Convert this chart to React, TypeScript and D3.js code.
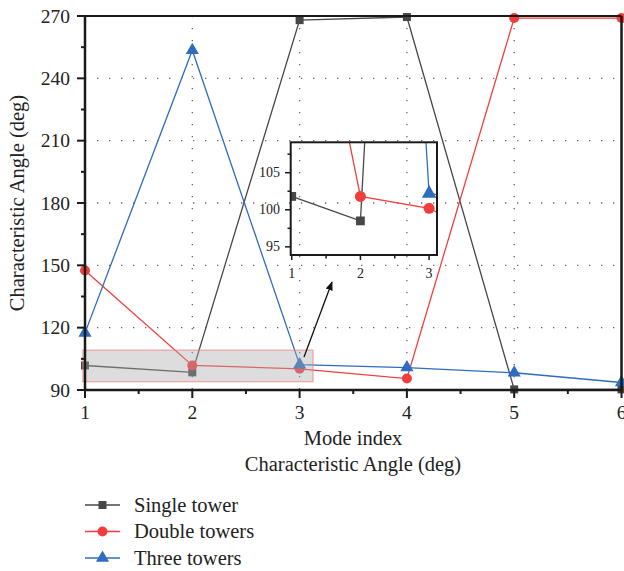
import React from "react";
import * as d3 from "d3";

const modes = [1, 2, 3, 4, 5, 6];
const singleTower = [101.8, 98.5, 268, 269.5, 90.3, 90.3];
const doubleTowers = [147.5, 101.8, 100.2, 95.5, 269, 269];
const threeTowers = [117.5, 253.5, 102.2, 100.8, 98.3, 93.6];
const yTicks = [90, 120, 150, 180, 210, 240, 270];
const insetYTicks = [95, 100, 105];
const insetXTicks = [1, 2, 3];

const series = [
  { name: "Single tower", values: singleTower, color: "#474747", shape: "square" },
  { name: "Double towers", values: doubleTowers, color: "#f23d3d", shape: "circle" },
  { name: "Three towers", values: threeTowers, color: "#2e6cbf", shape: "triangle" },
];

const FONT = "'Liberation Serif', 'Times New Roman', serif";

function Marker({ shape, x, y, color, s = 1 }: any) {
  if (shape === "square") {
    const a = 8 * s;
    return <rect x={x - a / 2} y={y - a / 2} width={a} height={a} fill={color} />;
  }
  if (shape === "circle") {
    return <circle cx={x} cy={y} r={5 * s} fill={color} />;
  }
  const p = d3.symbol().type(d3.symbolTriangle).size(75 * s * s)();
  return <path d={p as string} transform={`translate(${x},${y})`} fill={color} />;
}

export default function App() {
  const W = 624, H = 571;
  const x = d3.scaleLinear().domain([1, 6]).range([85, 621.5]);
  const y = d3.scaleLinear().domain([90, 270]).range([390, 16]);
  const xi = d3.scaleLinear().domain([0.985, 3.115]).range([290.7, 437]);
  const yi = d3.scaleLinear().domain([93.9, 109.1]).range([255, 142.3]);

  const line = d3.line<number>().x((_, i) => x(modes[i])).y((d) => y(d));
  const lineI = d3.line<number>().x((_, i) => xi(modes[i])).y((d) => yi(d));

  const minorY = d3.range(105, 270, 30);
  const minorX = d3.range(1.5, 6, 1);
  const gridX = [2, 3, 4, 5];
  const gridY = [120, 150, 180, 210, 240];
  const insetMinorY = [97.5, 102.5, 107.5];
  const insetMinorX = [1.5, 2.5];

  const [ix0, ix1] = xi.range();
  const [iy0, iy1] = [yi(109.1), yi(93.9)];

  const rx0 = x(0.98), rx1 = x(3.125), ry0 = y(109.2), ry1 = y(94);

  return (
    <svg width={W} height={H} style={{ position: "absolute", left: 0, top: 0, background: "#fff" }} fontFamily={FONT}>
      <defs>
        <clipPath id="insetClip">
          <rect x={ix0} y={iy0} width={ix1 - ix0} height={iy1 - iy0} />
        </clipPath>
        <marker id="arrowHead" viewBox="0 0 10 10" refX="9" refY="5" markerWidth="7" markerHeight="7" orient="auto">
          <path d="M0,1 L10,5 L0,9 Z" fill="#111" />
        </marker>
      </defs>
      {/* grid */}
      {gridX.map((v) => (
        <line key={"gx" + v} x1={x(v)} x2={x(v)} y1={16} y2={390} stroke="#666" strokeWidth={1.3} strokeDasharray="1.3 10.7" />
      ))}
      {gridY.map((v) => (
        <line key={"gy" + v} x1={85} x2={621.5} y1={y(v)} y2={y(v)} stroke="#666" strokeWidth={1.3} strokeDasharray="1.3 10.7" />
      ))}
      {/* main lines */}
      {series.map((s) => (
        <path key={s.name} d={line(s.values) as string} fill="none" stroke={s.color} strokeWidth={1.3} />
      ))}
      {series.map((s) =>
        s.values.map((v, i) => (
          <Marker key={s.name + i} shape={s.shape} x={x(modes[i])} y={y(v)} color={s.color} />
        ))
      )}
      {/* highlight rectangle */}
      <rect x={rx0} y={ry0} width={rx1 - rx0} height={ry1 - ry0} fill="#aaaaaa" fillOpacity={0.4} stroke="#f08080" strokeOpacity={0.7} strokeWidth={1.2} />
      {/* frame */}
      <line x1={85} x2={621.5} y1={16} y2={16} stroke="#1a1a1a" strokeWidth={2.2} />
      <line x1={621.5} x2={621.5} y1={16} y2={390} stroke="#1a1a1a" strokeWidth={2.5} />
      <line x1={85} x2={85} y1={15} y2={391} stroke="#1a1a1a" strokeWidth={2.5} />
      <line x1={84} x2={622.5} y1={390} y2={390} stroke="#1a1a1a" strokeWidth={2.5} />
      {/* y ticks */}
      {yTicks.map((v) => (
        <g key={"yt" + v}>
          <line x1={77} x2={85} y1={y(v)} y2={y(v)} stroke="#1a1a1a" strokeWidth={2} />
          <text x={70} y={y(v) + 6.5} textAnchor="end" fontSize={19.5} fill="#222">{v}</text>
        </g>
      ))}
      {minorY.map((v) => (
        <line key={"ym" + v} x1={81} x2={85} y1={y(v)} y2={y(v)} stroke="#1a1a1a" strokeWidth={2} />
      ))}
      {modes.map((v) => (
        <g key={"xt" + v}>
          <line x1={x(v)} x2={x(v)} y1={390} y2={398} stroke="#1a1a1a" strokeWidth={2} />
          <text x={x(v)} y={419} textAnchor="middle" fontSize={19.5} fill="#222">{v}</text>
        </g>
      ))}
      {minorX.map((v) => (
        <line key={"xm" + v} x1={x(v)} x2={x(v)} y1={390} y2={394} stroke="#1a1a1a" strokeWidth={2} />
      ))}
      {/* axis titles */}
      <text x={353} y={445} textAnchor="middle" fontSize={20.5} fill="#222">Mode index</text>
      <text x={353} y={471} textAnchor="middle" fontSize={20.5} fill="#222">Characteristic Angle (deg)</text>
      <text transform={`translate(24,203) rotate(-90)`} textAnchor="middle" fontSize={20.5} fill="#222">Characteristic Angle (deg)</text>
      {/* inset */}
      <g clipPath="url(#insetClip)">
        {series.map((s) => (
          <path key={"i" + s.name} d={lineI(s.values) as string} fill="none" stroke={s.color} strokeWidth={1.3} />
        ))}
        {series.map((s) =>
          s.values.map((v, i) => (
            <Marker key={"im" + s.name + i} shape={s.shape} x={xi(modes[i])} y={yi(v)} color={s.color} s={1.1} />
          ))
        )}
      </g>
      <rect x={ix0} y={iy0} width={ix1 - ix0} height={iy1 - iy0} fill="none" stroke="#1a1a1a" strokeWidth={2} />
      {insetYTicks.map((v) => (
        <g key={"iyt" + v}>
          <line x1={285} x2={ix0} y1={yi(v)} y2={yi(v)} stroke="#1a1a1a" strokeWidth={1.5} />
          <text x={280} y={yi(v) + 4.5} textAnchor="end" fontSize={14} fill="#222">{v}</text>
        </g>
      ))}
      {insetMinorY.map((v) => (
        <line key={"iym" + v} x1={287.5} x2={ix0} y1={yi(v)} y2={yi(v)} stroke="#1a1a1a" strokeWidth={1.5} />
      ))}
      {insetXTicks.map((v) => (
        <g key={"ixt" + v}>
          <line x1={xi(v)} x2={xi(v)} y1={iy1} y2={iy1 + 5} stroke="#1a1a1a" strokeWidth={1.5} />
          <text x={xi(v)} y={278} textAnchor="middle" fontSize={14} fill="#222">{v}</text>
        </g>
      ))}
      {insetMinorX.map((v) => (
        <line key={"ixm" + v} x1={xi(v)} x2={xi(v)} y1={iy1} y2={iy1 + 3.5} stroke="#1a1a1a" strokeWidth={1.5} />
      ))}
      {/* arrow */}
      <line x1={304} y1={357} x2={332} y2={282} stroke="#111" strokeWidth={1.3} markerEnd="url(#arrowHead)" />
      {/* legend */}
      {series.map((s, i) => {
        const ly = 505 + i * 26.5;
        return (
          <g key={"lg" + s.name}>
            <line x1={85} x2={120} y1={ly} y2={ly} stroke={s.color} strokeWidth={1.5} />
            <Marker shape={s.shape} x={102.5} y={ly} color={s.color} />
            <text x={134} y={ly + 6.5} fontSize={20.5} fill="#222">{s.name}</text>
          </g>
        );
      })}
    </svg>
  );
}
